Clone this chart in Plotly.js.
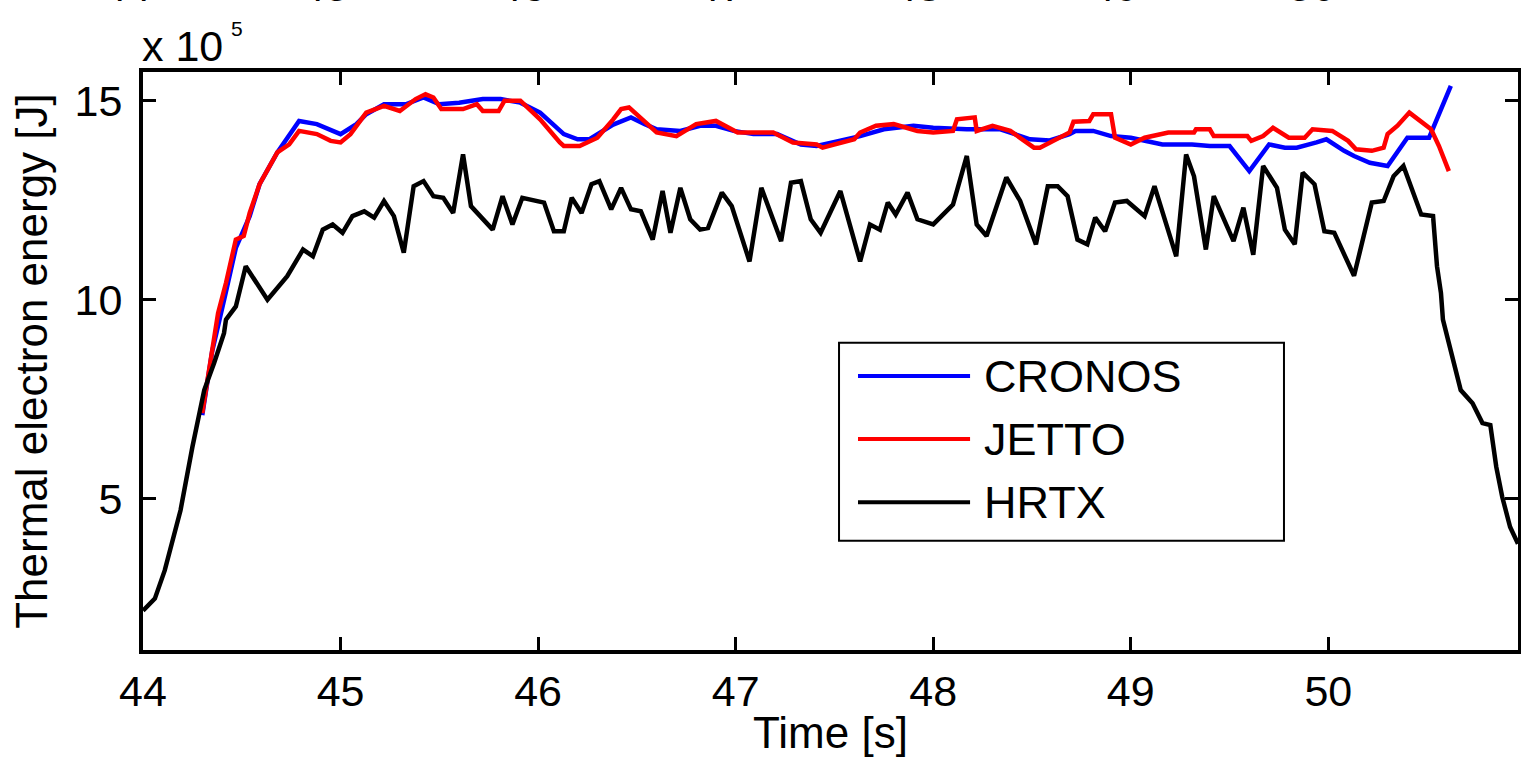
<!DOCTYPE html>
<html>
<head>
<meta charset="utf-8">
<script src="https://cdn.plot.ly/plotly-3.0.1.min.js"></script>
<style>
  html, body { margin: 0; padding: 0; background: #ffffff; }
  #chart { width: 1521px; height: 757px; }
</style>
</head>
<body>
<div id="chart"></div>
<script>
// Energies in units of 10^5 J, time in s
const hrtxTime = [44.00,44.06,44.11,44.19,44.25,44.31,44.36,44.41,44.42,44.47,44.52,44.63,44.73,44.81,44.86,44.91,44.96,45.01,45.06,45.12,45.17,45.22,45.27,45.32,45.37,45.42,45.47,45.52,45.57,45.62,45.66,45.77,45.82,45.87,45.92,46.03,46.08,46.13,46.17,46.22,46.27,46.31,46.37,46.42,46.47,46.52,46.58,46.63,46.67,46.72,46.77,46.82,46.86,46.93,46.98,47.07,47.13,47.23,47.28,47.33,47.38,47.43,47.53,47.63,47.68,47.73,47.77,47.81,47.87,47.92,48.00,48.10,48.17,48.22,48.27,48.37,48.44,48.52,48.58,48.63,48.68,48.73,48.78,48.82,48.87,48.92,48.98,49.07,49.12,49.23,49.28,49.32,49.38,49.42,49.52,49.57,49.62,49.67,49.74,49.78,49.83,49.87,49.93,49.98,50.03,50.13,50.22,50.28,50.33,50.38,50.47,50.53,50.55,50.57,50.58,50.62,50.67,50.73,50.78,50.82,50.85,50.88,50.92,50.96];
const hrtxEnergy = [2.19,2.49,3.2,4.71,6.3,7.73,8.41,9.16,9.5,9.83,10.84,10.0,10.59,11.26,11.09,11.76,11.89,11.68,12.1,12.22,12.06,12.48,12.1,11.18,12.85,12.98,12.6,12.56,12.18,13.65,12.35,11.76,12.6,11.89,12.56,12.44,11.72,11.72,12.56,12.18,12.9,12.98,12.27,12.81,12.27,12.22,11.51,12.73,11.68,12.81,12.02,11.76,11.8,12.69,12.35,10.96,12.81,11.47,12.94,12.98,12.02,11.68,12.73,10.96,11.89,11.76,12.44,12.14,12.69,12.02,11.89,12.39,13.61,11.89,11.6,13.07,12.48,11.39,12.85,12.85,12.6,11.51,11.39,12.06,11.72,12.44,12.48,12.1,12.85,11.09,13.65,13.1,11.26,12.6,11.47,12.31,11.13,13.36,12.81,11.76,11.39,13.19,12.9,11.72,11.68,10.6,12.44,12.48,13.1,13.36,12.14,12.1,10.84,10.17,9.5,8.7,7.73,7.4,6.9,6.85,5.8,5.05,4.29,3.87];

const cronosTime = [44.30,44.35,44.42,44.47,44.54,44.59,44.68,44.79,44.88,45.00,45.08,45.13,45.22,45.33,45.42,45.50,45.60,45.72,45.81,45.91,46.01,46.13,46.20,46.26,46.38,46.47,46.54,46.60,46.72,46.82,46.90,46.99,47.09,47.21,47.33,47.41,47.49,47.63,47.75,47.90,48.00,48.17,48.34,48.49,48.59,48.69,48.72,48.81,48.90,49.00,49.16,49.31,49.40,49.50,49.60,49.70,49.78,49.84,49.94,49.99,50.08,50.13,50.21,50.30,50.40,50.51,50.62];
const cronosEnergy = [7.1,8.7,10.2,11.3,12.1,12.9,13.7,14.49,14.41,14.16,14.41,14.66,14.91,14.91,15.08,14.91,14.95,15.04,15.04,14.95,14.70,14.16,14.03,14.03,14.40,14.58,14.41,14.28,14.24,14.37,14.37,14.24,14.16,14.16,13.90,13.86,13.95,14.11,14.28,14.37,14.32,14.28,14.28,14.03,14.0,14.16,14.24,14.24,14.11,14.07,13.90,13.90,13.86,13.86,13.23,13.90,13.82,13.82,13.95,14.03,13.74,13.61,13.44,13.36,14.07,14.07,15.37];

const jettoTime = [44.30,44.35,44.38,44.42,44.47,44.51,44.54,44.59,44.68,44.74,44.79,44.88,44.95,45.00,45.05,45.13,45.22,45.30,45.38,45.43,45.47,45.51,45.62,45.69,45.72,45.80,45.83,45.91,46.01,46.11,46.13,46.21,46.30,46.38,46.42,46.46,46.54,46.60,46.70,46.80,46.90,47.01,47.09,47.19,47.29,47.41,47.44,47.60,47.63,47.71,47.80,47.92,48.00,48.10,48.12,48.21,48.22,48.30,48.39,48.51,48.54,48.69,48.71,48.79,48.81,48.90,48.92,49.00,49.07,49.19,49.32,49.33,49.40,49.42,49.59,49.61,49.67,49.72,49.80,49.88,49.92,50.02,50.10,50.14,50.22,50.28,50.30,50.35,50.41,50.52,50.56,50.61];
const jettoEnergy = [7.15,8.8,9.66,10.42,11.51,11.6,12.18,12.9,13.7,13.9,14.24,14.16,13.99,13.95,14.16,14.70,14.87,14.74,15.04,15.16,15.08,14.79,14.79,14.91,14.74,14.74,15.0,15.0,14.53,13.95,13.86,13.86,14.07,14.53,14.79,14.83,14.45,14.20,14.11,14.41,14.49,14.20,14.20,14.20,13.95,13.90,13.82,14.03,14.20,14.37,14.41,14.24,14.20,14.24,14.53,14.58,14.24,14.37,14.24,13.82,13.82,14.20,14.47,14.49,14.66,14.66,14.07,13.90,14.07,14.20,14.20,14.28,14.28,14.11,14.11,13.99,14.11,14.32,14.07,14.07,14.28,14.24,13.99,13.78,13.74,13.82,14.16,14.37,14.70,14.28,13.86,13.23];

const seriesNames = ['CRONOS', 'JETTO', 'HRTX'];
const seriesColors = ['#0000ff', '#ff0000', '#000000'];
const xTickVals = [44, 45, 46, 47, 48, 49, 50];
const yTickVals = [5, 10, 15];
const yTickText = ['5', '10', '15'];
const upperTickLabels = ['44', '45', '46', '47', '48', '49', '50', '51'];

const FONT = 'Liberation Sans, Arial, Helvetica, sans-serif';

const traces = [
  {x: cronosTime, y: cronosEnergy, name: seriesNames[0], type: 'scatter', mode: 'lines',
   line: {color: seriesColors[0], width: 4.5}},
  {x: jettoTime, y: jettoEnergy, name: seriesNames[1], type: 'scatter', mode: 'lines',
   line: {color: seriesColors[1], width: 4.5}},
  {x: hrtxTime, y: hrtxEnergy, name: seriesNames[2], type: 'scatter', mode: 'lines',
   line: {color: seriesColors[2], width: 4.5}}
];

// manual MATLAB-style legend
const legX0 = 0.5062, legX1 = 0.8298, legY0 = 0.1891, legY1 = 0.5317;
const legRowsY = [0.474, 0.365, 0.2555];
const shapes = [
  {type: 'rect', xref: 'paper', yref: 'paper', x0: legX0, x1: legX1, y0: legY0, y1: legY1,
   line: {color: '#000000', width: 2}, fillcolor: '#ffffff', layer: 'above'}
];
const annotations = [];
seriesNames.forEach((n, i) => {
  shapes.push({type: 'line', xref: 'paper', yref: 'paper', x0: 0.52, x1: 0.6015,
    y0: legRowsY[i], y1: legRowsY[i], line: {color: seriesColors[i], width: 4}, layer: 'above'});
  annotations.push({xref: 'paper', yref: 'paper', x: 0.6102, y: legRowsY[i], xanchor: 'left',
    yanchor: 'middle', text: n, showarrow: false, font: {family: FONT, size: 45, color: '#000'}});
});
// exponent label
annotations.push({xref: 'paper', yref: 'paper', x: 0, y: 1, xanchor: 'left', yanchor: 'bottom',
  xshift: -3, yshift: 0, text: 'x 10', showarrow: false, font: {family: FONT, size: 43, color: '#000'}});
annotations.push({xref: 'paper', yref: 'paper', x: 0, y: 1, xanchor: 'left', yanchor: 'bottom',
  xshift: 86, yshift: 30, text: '5', showarrow: false, font: {family: FONT, size: 21, color: '#000'}});
// clipped tick labels of the panel above (cut by the page edge, as in the original figure)
upperTickLabels.forEach((t) => {
  annotations.push({xref: 'x', yref: 'paper', x: Number(t), y: 1, xanchor: 'center', yanchor: 'bottom',
    xshift: -16, yshift: 60, text: t, showarrow: false, font: {family: FONT, size: 43, color: '#000'}});
});

const axisCommon = {
  showline: true, linecolor: '#000000', linewidth: 4, mirror: 'ticks',
  ticks: 'inside', ticklen: 13, tickwidth: 3, tickcolor: '#000000',
  showgrid: false, zeroline: false,
  tickfont: {family: FONT, size: 43, color: '#000000'}
};

const layout = {
  width: 1521, height: 757,
  margin: {l: 143, r: 3, t: 72, b: 107, pad: 0},
  paper_bgcolor: '#ffffff', plot_bgcolor: '#ffffff',
  showlegend: false,
  xaxis: Object.assign({}, axisCommon, {
    range: [44, 50.96], tickmode: 'array', tickvals: xTickVals,
    title: {text: 'Time [s]', font: {family: FONT, size: 44, color: '#000'}, standoff: 2}
  }),
  yaxis: Object.assign({}, axisCommon, {
    range: [1.2, 15.72], tickmode: 'array', tickvals: yTickVals, ticktext: yTickText,
    ticklabelstandoff: 8,
    title: {text: 'Thermal electron energy [J]', font: {family: FONT, size: 44, color: '#000'}, standoff: 14}
  }),
  shapes: shapes,
  annotations: annotations
};

Plotly.newPlot('chart', traces, layout, {staticPlot: true, displayModeBar: false});
</script>
</body>
</html>
